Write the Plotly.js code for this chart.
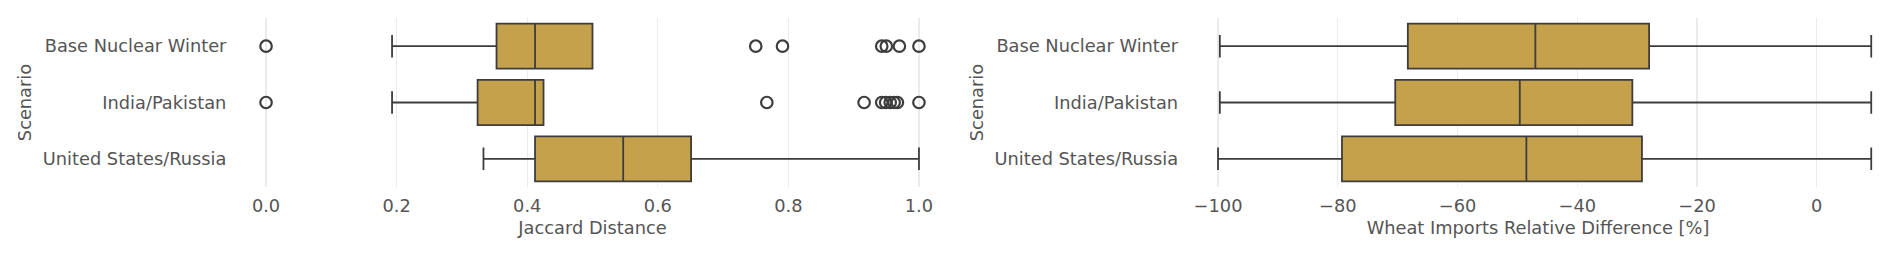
<!DOCTYPE html>
<html>
<head>
<meta charset="utf-8">
<script src="https://cdn.plot.ly/plotly-3.0.1.min.js"></script>
<style>html,body{margin:0;padding:0;background:#fff;}#chart{width:1892px;height:255px;}</style>
</head>
<body>
<div id="chart"></div>
<script>
// Categories (top to bottom)
const scenarios = ["Base Nuclear Winter", "India/Pakistan", "United States/Russia"];

// Jaccard Distance box statistics
const jacLower = [0.193, 0.193, 0.333];
const jacQ1 = [0.353, 0.324, 0.412];
const jacMedian = [0.412, 0.412, 0.547];
const jacQ3 = [0.500, 0.425, 0.651];
const jacUpper = [0.500, 0.425, 1.0];

// Jaccard outliers
const jacOutBase = [0.0, 0.750, 0.791, 0.943, 0.950, 0.970, 1.0];
const jacOutIndia = [0.0, 0.767, 0.916, 0.943, 0.949, 0.956, 0.962, 0.967, 1.0];

// Wheat imports relative difference [%] box statistics
const wheatLower = [-99.7, -99.7, -100.0];
const wheatQ1 = [-68.3, -70.4, -79.3];
const wheatMedian = [-47.0, -49.6, -48.5];
const wheatQ3 = [-28.0, -30.8, -29.2];
const wheatUpper = [9.1, 9.1, 9.1];

const jacTicks = [0.0, 0.2, 0.4, 0.6, 0.8, 1.0];
const jacTickText = ["0.0", "0.2", "0.4", "0.6", "0.8", "1.0"];
const wheatTicks = [-100, -80, -60, -40, -20, 0];
const wheatTickText = ["\u2212100", "\u221280", "\u221260", "\u221240", "\u221220", "0"];

const fill = "rgb(196,161,74)";
const lineC = "#3d3d3d";
const textC = "#555555";
const font = {family: "DejaVu Sans", size: 17.8, color: textC};

function boxTrace(xa, ya, lo, q1, med, q3, hi) {
  return {
    type: "box", orientation: "h", xaxis: xa, yaxis: ya,
    y: scenarios, q1: q1, median: med, q3: q3, lowerfence: lo, upperfence: hi,
    width: 0.8, whiskerwidth: 0.5,
    fillcolor: fill, line: {color: lineC, width: 1.8},
    boxpoints: false, showlegend: false, hoverinfo: "skip"
  };
}
function outTrace(vals, cat) {
  return {
    type: "scatter", mode: "markers", xaxis: "x", yaxis: "y",
    x: vals, y: vals.map(() => cat),
    marker: {symbol: "circle-open", size: 11.5, color: lineC, line: {width: 2.2, color: lineC}},
    showlegend: false, hoverinfo: "skip", cliponaxis: false
  };
}

const data = [
  boxTrace("x", "y", jacLower, jacQ1, jacMedian, jacQ3, jacUpper),
  outTrace(jacOutBase, scenarios[0]),
  outTrace(jacOutIndia, scenarios[1]),
  boxTrace("x2", "y2", wheatLower, wheatQ1, wheatMedian, wheatQ3, wheatUpper)
];

const xCommon = {
  showgrid: true, gridcolor: "#ebebeb", gridwidth: 1.2, zeroline: false, showline: false,
  ticks: "", tickfont: font, ticklabelstandoff: 6
};
const yCommon = {
  type: "category", categoryarray: scenarios, range: [2.5, -0.5],
  showgrid: false, zeroline: false, showline: false, ticks: "", tickfont: font,
  ticklabelstandoff: 6
};

const layout = {
  width: 1892, height: 255,
  margin: {l: 0, r: 0, t: 18, b: 68},
  paper_bgcolor: "#ffffff", plot_bgcolor: "#ffffff",
  font: font,
  xaxis: Object.assign({}, xCommon, {
    domain: [233.4 / 1892, 951.6 / 1892], range: [-0.05, 1.05], anchor: "y",
    tickvals: jacTicks, ticktext: jacTickText,
    title: {text: "Jaccard Distance", font: font, standoff: 6}
  }),
  yaxis: Object.assign({}, yCommon, {
    anchor: "x",
    title: {text: "Scenario", font: font, standoff: 6}
  }),
  xaxis2: Object.assign({}, xCommon, {
    domain: [1185.1 / 1892, 1891 / 1892], range: [-105.5, 12.4], anchor: "y2",
    tickvals: wheatTicks, ticktext: wheatTickText,
    title: {text: "Wheat Imports Relative Difference [%]", font: font, standoff: 6}
  }),
  yaxis2: Object.assign({}, yCommon, {
    anchor: "x2",
    title: {text: "Scenario", font: font, standoff: 6}
  })
};

Plotly.newPlot("chart", data, layout, {displayModeBar: false, staticPlot: true});
</script>
</body>
</html>
